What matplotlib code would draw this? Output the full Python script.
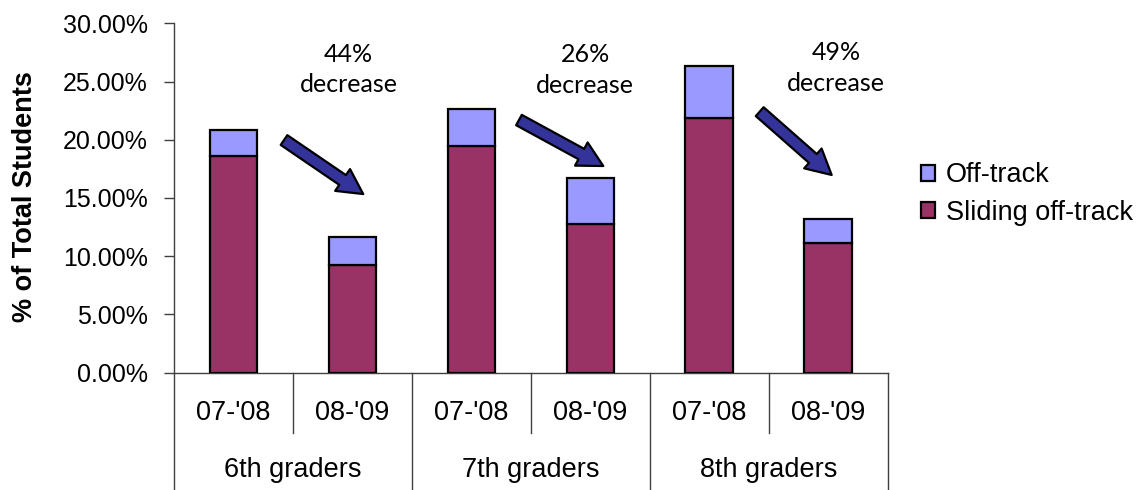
import matplotlib
matplotlib.use("Agg")
import matplotlib.pyplot as plt
import matplotlib.transforms as mtransforms
from matplotlib.lines import Line2D
from matplotlib.ticker import PercentFormatter

# ---- data -------------------------------------------------------------
years = ["07-'08", "08-'09", "07-'08", "08-'09", "07-'08", "08-'09"]
grades = ["6th graders", "7th graders", "8th graders"]
sliding = [18.6, 9.2, 19.5, 12.75, 21.9, 11.1]      # Sliding off-track (%)
off_track = [2.2, 2.45, 3.15, 4.0, 4.45, 2.1]       # Off-track (%)
decrease_labels = ["44%\ndecrease", "26%\ndecrease", "49%\ndecrease"]

# annotation placement (category units, percent)
label_pos = [(0.967, 26.03), (2.958, 25.99), (5.065, 26.16)]
arrow_tails = [(0.425, 19.97), (2.400, 21.69), (4.424, 22.41)]
arrow_tips = [(1.091, 15.33), (3.109, 17.74), (5.029, 16.97)]

# ---- style ------------------------------------------------------------
C_SLIDE = "#993366"
C_OFF = "#9999FF"
C_ARROW = "#333399"
AXIS_C = "#404040"
plt.rcParams["font.family"] = ["Liberation Sans", "DejaVu Sans"]

W, H, DPI = 1138, 490, 100
fig = plt.figure(figsize=(W / DPI, H / DPI), dpi=DPI, facecolor="white")
ax = fig.add_axes([174 / W, (H - 372.5) / H, (887.7 - 174) / W, 349.2 / H])

x = list(range(len(years)))
bw = 0.40
b1 = ax.bar(x, sliding, width=bw, color=C_SLIDE, edgecolor="black",
            linewidth=1.6, label="Sliding off-track", zorder=3)
b2 = ax.bar(x, off_track, width=bw, bottom=sliding, color=C_OFF,
            edgecolor="black", linewidth=1.6, label="Off-track", zorder=3)

ax.set_xlim(-0.5, 5.5)
ax.set_ylim(0, 30)
ax.set_yticks([0, 5, 10, 15, 20, 25, 30])
ax.yaxis.set_major_formatter(PercentFormatter(decimals=2))
ax.tick_params(axis="y", direction="out", length=7, width=1, color=AXIS_C,
               labelsize=18, pad=12)
ax.tick_params(axis="x", length=0, labelbottom=False)
for s in ("top", "right"):
    ax.spines[s].set_visible(False)
for s in ("left", "bottom"):
    ax.spines[s].set_color(AXIS_C)
    ax.spines[s].set_linewidth(1)

ax.set_ylabel("% of Total Students", fontsize=19.5, fontweight="bold")
ax.yaxis.set_label_coords(-0.19, 0.5026)

# ---- two-level category axis -------------------------------------------
tr = mtransforms.blended_transform_factory(ax.transData, ax.transAxes)
y_bottom = -0.3365
y_sub = -0.172
for gx in (-0.5, 1.5, 3.5, 5.5):
    ax.add_line(Line2D([gx, gx], [0, y_bottom], transform=tr, color=AXIS_C,
                       lw=1, clip_on=False))
for sx in (0.5, 2.5, 4.5):
    ax.add_line(Line2D([sx, sx], [0, y_sub], transform=tr, color=AXIS_C,
                       lw=1, clip_on=False))
for xi, lab in zip(x, years):
    ax.text(xi, -0.115, lab, transform=tr, ha="center", va="center",
            fontsize=19.5)
for gi, g in enumerate(grades):
    ax.text(2 * gi + 0.5, -0.279, g, transform=tr, ha="center", va="center",
            fontsize=19.5)

# ---- decrease callouts ---------------------------------------------------
for (lx, ly), txt in zip(label_pos, decrease_labels):
    ax.text(lx, ly, txt, ha="center", va="center", fontsize=18,
            family=["Lato", "DejaVu Sans"], linespacing=1.4)
for tail, tip in zip(arrow_tails, arrow_tips):
    ax.annotate("", xy=tip, xytext=tail,
                arrowprops=dict(arrowstyle="simple,head_length=18,head_width=19,tail_width=8.5",
                                mutation_scale=1, fc=C_ARROW, ec="black",
                                lw=1.6, shrinkA=0, shrinkB=0),
                zorder=4)

# ---- legend ---------------------------------------------------------------
ax.legend(handles=[b2, b1], loc="center left",
          bbox_to_anchor=(921 / W, (H - 194) / H), bbox_transform=fig.transFigure,
          frameon=False, fontsize=19.5, handlelength=0.53, handleheight=0.53,
          handletextpad=0.4, labelspacing=0.42, borderpad=0, borderaxespad=0)

fig.savefig("out.png", dpi=DPI, facecolor="white")
